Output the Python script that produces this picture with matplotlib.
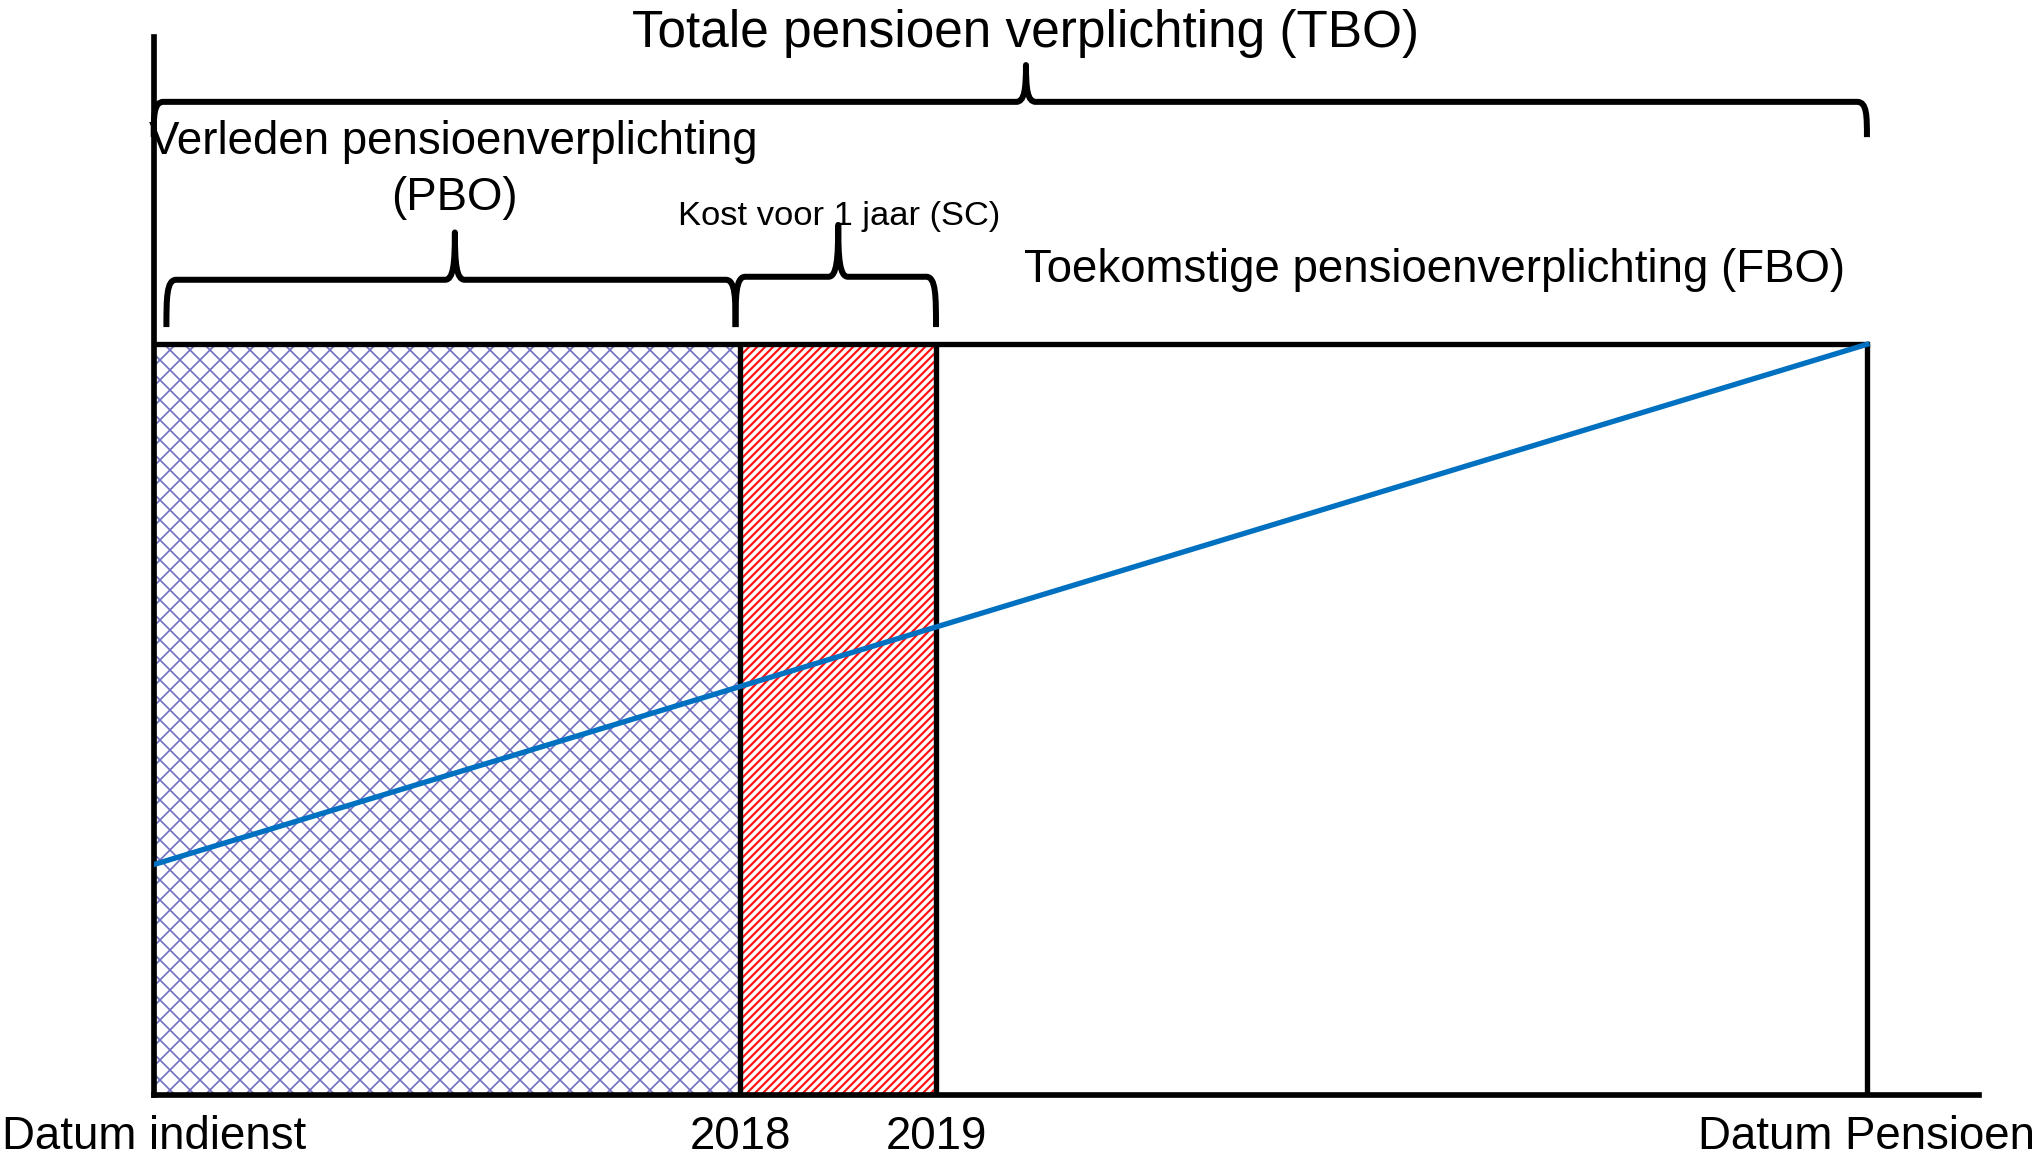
import matplotlib.pyplot as plt
from matplotlib.path import Path
from matplotlib.patches import PathPatch

plt.rcParams['font.family'] = ['Liberation Sans', 'DejaVu Sans']

# tijdlijn in jaren vanaf datum indienst
tick_pos = [0, 3, 4, 8.76]
tick_labels = ['Datum indienst', '2018', '2019', 'Datum Pensioen']

# opgebouwde verplichting (fractie van totale verplichting)
accrual_x = [0, 8.76]
accrual_y = [0.307, 1.0]
total_level = 1.0

# periodes: verleden (PBO) en kost voor 1 jaar (SC)
period_start = [0, 3]
period_width = [3, 1]
period_hatch = ['xx', '/////']
period_color = ['#7070c0', '#ff1010']


def draw_brace(ax, x0, x1, y_base, y_line, y_tip, xm=None, r=0.05, rt=0.05, lw=3.6):
    """accolade tussen x0 en x1, punt naar boven op xm"""
    if xm is None:
        xm = (x0 + x1) / 2
    up = y_line + 0.35 * (y_tip - y_line)
    verts = [(x0, y_base), (x0, y_base + 0.6 * (y_line - y_base)), (x0, y_line), (x0 + r, y_line),
             (xm - rt, y_line),
             (xm - 0.15 * rt, y_line), (xm, up), (xm, y_tip),
             (xm, up), (xm + 0.15 * rt, y_line), (xm + rt, y_line),
             (x1 - r, y_line),
             (x1, y_line), (x1, y_base + 0.6 * (y_line - y_base)), (x1, y_base)]
    codes = ([Path.MOVETO] + [Path.CURVE4] * 3 + [Path.LINETO] + [Path.CURVE4] * 6
             + [Path.LINETO] + [Path.CURVE4] * 3)
    ax.add_patch(PathPatch(Path(verts, codes), fill=False, lw=lw, edgecolor='black',
                           joinstyle='round', capstyle='butt', clip_on=False))


fig = plt.figure(figsize=(2044 / 120, 1160 / 120), dpi=120)
ax = fig.add_axes([0.0752, 0.056, 0.893, 0.9125])
ax.set_xlim(0, 9.333)
ax.set_ylim(0, 1.41)

# gearceerde periodes
for x, w, h, c in zip(period_start, period_width, period_hatch, period_color):
    b = ax.bar(x, total_level, width=w, align='edge', facecolor='white', edgecolor=c,
               hatch=h, linewidth=0, zorder=1)
    for p in b:
        if hasattr(p, 'set_hatch_linewidth'):
            p.set_hatch_linewidth(1.0 if h == 'xx' else 1.3)

# kader
ax.plot([0, tick_pos[-1]], [total_level, total_level], color='black', lw=3.2, zorder=3)
ax.vlines(tick_pos[1:], 0, total_level, color='black', lw=3.2, zorder=3)

# opbouwlijn
ax.plot(accrual_x, accrual_y, color='#0070c0', lw=3.2, zorder=4)

# accolades
draw_brace(ax, 0, tick_pos[-1], 1.276, 1.323, 1.372, xm=4.46)
draw_brace(ax, 0.065, 2.975, 1.023, 1.086, 1.149, xm=1.54)
draw_brace(ax, 2.975, 4.0, 1.023, 1.090, 1.159, xm=3.5)

# teksten
ax.text(4.46, 1.396, 'Totale pensioen verplichting (TBO)', ha='center', va='baseline',
        fontsize=30.8, clip_on=False)
ax.text(1.53, 1.254, 'Verleden pensioenverplichting', ha='center', va='baseline', fontsize=27.4)
ax.text(1.54, 1.179, '(PBO)', ha='center', va='baseline', fontsize=27.4)
ax.text(3.503, 1.159, 'Kost voor 1 jaar (SC)', ha='center', va='baseline', fontsize=20.7)
ax.text(6.547, 1.083, 'Toekomstige pensioenverplichting (FBO)', ha='center', va='baseline',
        fontsize=27.4)

# assen
for s in ['top', 'right']:
    ax.spines[s].set_visible(False)
for s in ['left', 'bottom']:
    ax.spines[s].set_linewidth(3.4)
ax.set_yticks([])
ax.set_xticks(tick_pos)
ax.set_xticklabels(tick_labels, fontsize=27.4)
ax.tick_params(axis='x', length=0, pad=12)
ax.set_facecolor('white')

fig.savefig('out.png', dpi=120, facecolor='white')
